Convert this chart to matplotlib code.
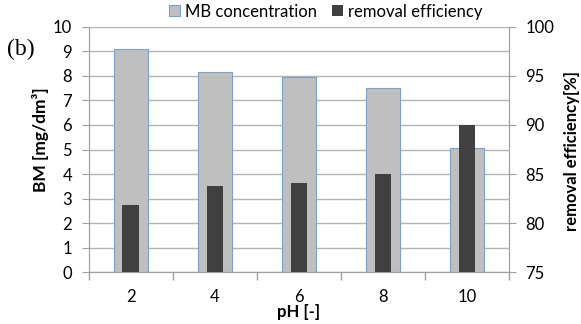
import matplotlib
matplotlib.use("Agg")
import matplotlib.pyplot as plt
import numpy as np

ph = ["2", "4", "6", "8", "10"]
mb_conc = [9.08, 8.15, 7.95, 7.5, 5.05]
removal_eff = [81.8, 83.75, 84.1, 85.0, 90.0]

plt.rcParams['font.family'] = ['Lato', 'DejaVu Sans']

fig = plt.figure(figsize=(5.81, 3.24), dpi=100)
ax = fig.add_axes([0.153, 0.160, 0.723, 0.757])
ax2 = ax.twinx()

x = np.arange(len(ph))
gray = '#bfbfbf'
dark = '#404040'
ax.bar(x, mb_conc, width=0.4, color=gray, edgecolor='#7a9fd0', linewidth=0.8,
       label='MB concentration', zorder=3)
ax2.bar(x, removal_eff, width=0.2, color=dark, bottom=0, label='removal efficiency', zorder=3)

ax.set_xlim(-0.5, len(ph) - 0.5)
ax.set_ylim(0, 10)
ax.set_yticks(range(0, 11))
ax2.set_ylim(75, 100)
ax2.set_yticks(range(75, 101, 5))

ax.grid(axis='y', color='#b4b4b4', linewidth=1.0, zorder=0)
ax.set_axisbelow(True)

ax.set_xticks(x)
ax.set_xticklabels(ph)
ax.set_xticks(np.arange(-0.5, len(ph)), minor=True)
ax.tick_params(axis='x', which='major', length=0, pad=12, labelsize=12)
ax.tick_params(axis='x', which='minor', length=6, color='#a0a0a0', width=1)
ax.tick_params(axis='y', length=5, color='#a0a0a0', labelsize=12, pad=7)
ax2.tick_params(axis='y', length=5, color='#a0a0a0', labelsize=12, pad=7)

for a in (ax, ax2):
    a.spines['top'].set_visible(False)
    for s in ('left', 'right', 'bottom'):
        a.spines[s].set_color('#a0a0a0')

ax.set_xlabel('pH [-]', fontweight='bold', fontsize=12)
ax.xaxis.set_label_coords(0.5, -0.13)
ax.set_ylabel('BM [mg/dm³]', fontweight='bold', fontsize=12.5)
ax.yaxis.set_label_coords(-0.095, 0.54)
ax2.set_ylabel('removal efficiency[%]', fontweight='bold', fontsize=12)
ax2.yaxis.set_label_coords(1.13, 0.495)

fig.text(0.012, 0.83, '(b)', family='Liberation Serif', fontsize=17)

h1, l1 = ax.get_legend_handles_labels()
h2, l2 = ax2.get_legend_handles_labels()
fig.legend(h1 + h2, l1 + l2, loc='upper center', bbox_to_anchor=(0.561, 1.035), ncol=2,
           frameon=False, fontsize=12, handlelength=0.65, handleheight=0.65,
           handletextpad=0.3, columnspacing=0.9)

fig.savefig('out.png', dpi=100)
